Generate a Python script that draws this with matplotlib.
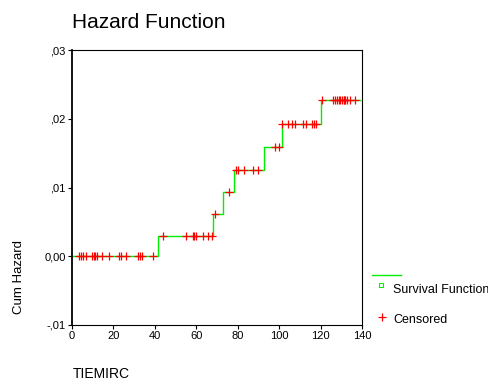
import matplotlib
matplotlib.use("Agg")
import matplotlib.pyplot as plt
from matplotlib.lines import Line2D
from matplotlib.ticker import FuncFormatter

plt.rcParams["font.family"] = ["Liberation Sans", "DejaVu Sans"]

# step function of the cumulative hazard (time of jump, level after jump)
step_times = [0, 41.7, 68.2, 73.1, 78.4, 92.9, 101.3, 120.1, 138.8]
step_levels = [0.0, 0.0030, 0.0062, 0.0094, 0.0126, 0.0159, 0.0192, 0.0227, 0.0227]

# censored observations
cens_times = [3.4, 4.3, 5.5, 6.8, 9.8, 10.5, 11.1, 12.2, 14.7, 17.9, 22.9, 23.7,
              26.1, 31.7, 32.8, 33.9, 39.3,
              43.8, 55.1, 58.3, 59.1, 59.9, 63.1, 65.5, 67.5,
              69.1, 76.0,
              79.2, 80.0, 82.8, 87.6, 90.0,
              98.1, 99.7,
              101.5, 104.5, 106.1, 107.7, 111.7, 113.0, 115.8, 116.9, 117.9,
              120.6, 126.2, 127.1, 127.9, 128.7, 129.5, 130.3, 131.1, 131.5,
              131.9, 132.7, 134.3, 136.7]
cens_levels = [0.0] * 17 + [0.0030] * 8 + [0.0062, 0.0094] + [0.0126] * 5 \
    + [0.0159] * 2 + [0.0192] * 9 + [0.0227] * 13

green = "#00ee00"
red = "#ff0000"

fig = plt.figure(figsize=(4.88, 3.81), dpi=100)
ax = fig.add_axes([72 / 488, 1 - 325 / 381, 290 / 488, 275 / 381])

ax.plot(step_times, step_levels, drawstyle="steps-post", color=green, lw=1.0)
ax.plot(cens_times, cens_levels, "+", color=red, markersize=5.5, mew=0.9)

ax.set_xlim(0, 140)
ax.set_ylim(-0.01, 0.03)
ax.set_xticks([0, 20, 40, 60, 80, 100, 120, 140])
ax.set_yticks([-0.01, 0.0, 0.01, 0.02, 0.03])


def fmt(v, pos):
    s = "%.2f" % v
    s = s.replace(".", ",")
    if s.startswith("0,") and abs(v) > 1e-9:
        s = s[1:]
    elif s.startswith("-0,"):
        s = "-" + s[2:]
    return s


ax.yaxis.set_major_formatter(FuncFormatter(fmt))
ax.tick_params(labelsize=8, length=3, width=0.8, direction="out", pad=1.5)
for side in ["top", "right", "bottom"]:
    ax.spines[side].set_linewidth(0.8)
ax.spines["left"].set_linewidth(1.3)

fig.text(72 / 488, 1 - 22 / 381, "Hazard Function", fontsize=15, va="center", ha="left")
fig.text(19 / 488, 1 - 277 / 381, "Cum Hazard", fontsize=9.5, rotation=90,
         va="center", ha="center")
fig.text(73 / 488, 1 - 374 / 381, "TIEMIRC", fontsize=10, va="center", ha="left")

# legend drawn beside the axes
fig.add_artist(Line2D([372 / 488, 401 / 488], [1 - 275 / 381, 1 - 275 / 381],
                      color=green, lw=1.0, transform=fig.transFigure))
fig.add_artist(Line2D([381 / 488], [1 - 285 / 381], marker="s", markersize=3.5,
                      mfc="none", mec=green, mew=0.8, ls="none",
                      transform=fig.transFigure))
fig.text(393 / 488, 1 - 290 / 381, "Survival Function", fontsize=9, va="center")
fig.add_artist(Line2D([381.5 / 488], [1 - 317 / 381], marker="+", markersize=5.5,
                      color=red, mew=0.9, ls="none", transform=fig.transFigure))
fig.text(393 / 488, 1 - 320 / 381, "Censored", fontsize=9, va="center")

fig.savefig("out.png", dpi=100)
